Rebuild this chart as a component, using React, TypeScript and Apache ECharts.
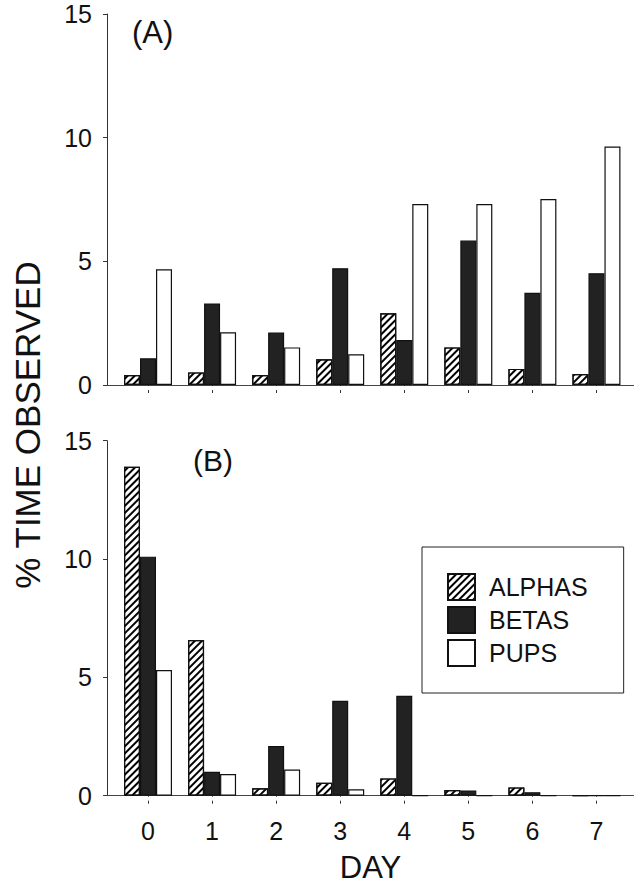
import React, { useEffect, useRef } from "react";
import * as echarts from "echarts";

const days = [0, 1, 2, 3, 4, 5, 6, 7];
const dayLabels = ["0", "1", "2", "3", "4", "5", "6", "7"];
const yTicks = [0, 5, 10, 15];

// Panel (A)
const alphasA = [0.4, 0.51, 0.4, 1.04, 2.9, 1.52, 0.65, 0.44];
const betasA = [1.08, 3.3, 2.12, 4.72, 1.82, 5.84, 3.73, 4.52];
const pupsA = [4.68, 2.13, 1.52, 1.24, 7.32, 7.32, 7.52, 9.64];

// Panel (B)
const alphasB = [13.9, 6.58, 0.31, 0.55, 0.73, 0.24, 0.35, 0];
const betasB = [10.1, 1.01, 2.1, 4.01, 4.22, 0.22, 0.15, 0];
const pupsB = [5.31, 0.92, 1.11, 0.27, 0, 0, 0, 0];

const FONT = "'Liberation Sans', Arial, Helvetica, sans-serif";
const INK = "#111";

const hatch = {
  symbol: "rect",
  symbolSize: 1,
  dashArrayX: [1, 0],
  dashArrayY: [2, 3],
  rotation: -Math.PI / 4,
  color: "#000",
};

const styles: Record<string, any> = {
  ALPHAS: { color: "#fff", borderColor: INK, borderWidth: 1.2, decal: hatch },
  BETAS: { color: "#222", borderColor: INK, borderWidth: 1.2 },
  PUPS: { color: "#fff", borderColor: INK, borderWidth: 1.2 },
};

const toPairs = (vals: number[]) => days.map((d, i) => [d, vals[i]]);

export default function App() {
  const ref = useRef<HTMLDivElement>(null);
  useEffect(() => {
    if (!ref.current) return;
    const chart = echarts.init(ref.current, null, { renderer: "svg" });

    const xAxisBase = (gridIndex: number, showLabels: boolean) => ({
      type: "value",
      gridIndex,
      min: -0.64,
      max: 7.586,
      splitLine: { show: false },
      axisLine: { show: true, onZero: false, lineStyle: { color: "#444", width: 1 } },
      axisTick: {
        show: true,
        customValues: days,
        length: 8,
        lineStyle: { color: "#333", width: 1, type: [1, 4, 3, 20] },
      },
      axisLabel: {
        show: showLabels,
        customValues: days,
        formatter: (v: number) => dayLabels[days.indexOf(v)] ?? "",
        fontSize: 25,
        fontFamily: FONT,
        color: INK,
        margin: 23,
      },
      ...(showLabels
        ? {
            name: "DAY",
            nameLocation: "middle",
            nameGap: 56,
            nameTextStyle: { fontSize: 31, fontFamily: FONT, color: INK },
          }
        : {}),
    });

    const yAxisBase = (gridIndex: number) => ({
      type: "value",
      gridIndex,
      min: 0,
      max: 15,
      interval: 5,
      splitLine: { show: false },
      axisLine: { show: true, onZero: false, lineStyle: { color: "#333", width: 1 } },
      axisTick: { show: true, length: 4, lineStyle: { color: "#333" } },
      axisLabel: {
        fontSize: 25,
        fontFamily: FONT,
        color: INK,
        margin: 15,
        padding: [12, 0, 0, 0],
        customValues: yTicks,
      },
    });

    const mk = (name: string, vals: number[], idx: number) => ({
      type: "bar",
      name,
      xAxisIndex: idx,
      yAxisIndex: idx,
      data: toPairs(vals),
      barWidth: 16,
      barGap: "0%",
      itemStyle: styles[name],
      emphasis: { disabled: true },
    });

    chart.setOption({
      animation: false,
      backgroundColor: "#fff",
      title: [
        {
          text: "(A)",
          left: 127,
          top: 12,
          textStyle: { fontSize: 31, fontWeight: "normal", fontFamily: FONT, color: INK },
        },
        {
          text: "(B)",
          left: 188,
          top: 440,
          textStyle: { fontSize: 30, fontWeight: "normal", fontFamily: FONT, color: INK },
        },
      ],
      grid: [
        { left: 107, top: 14, width: 527, height: 371 },
        { left: 107, top: 440.7, width: 527, height: 355 },
      ],
      xAxis: [xAxisBase(0, false), xAxisBase(1, true)],
      yAxis: [yAxisBase(0), yAxisBase(1)],
      legend: {
        data: ["ALPHAS", "BETAS", "PUPS"],
        orient: "vertical",
        left: 422,
        top: 547,
        padding: [26, 36, 26, 25],
        itemWidth: 27,
        itemHeight: 26,
        itemGap: 5,
        icon: "rect",
        borderColor: "#222",
        borderWidth: 1,
        selectedMode: false,
        textStyle: { fontSize: 25, fontFamily: FONT, color: INK, padding: [0, 0, 0, 9] },
      },
      graphic: [
        {
          type: "text",
          x: 27,
          y: 425,
          rotation: Math.PI / 2,
          style: {
            text: "% TIME OBSERVED",
            fontSize: 35,
            fontFamily: FONT,
            fill: INK,
            align: "center",
            verticalAlign: "middle",
          },
        },
      ],
      series: [
        mk("ALPHAS", alphasA, 0),
        mk("BETAS", betasA, 0),
        mk("PUPS", pupsA, 0),
        mk("ALPHAS", alphasB, 1),
        mk("BETAS", betasB, 1),
        mk("PUPS", pupsB, 1),
      ],
    });
    return () => chart.dispose();
  }, []);
  return (
    <div
      ref={ref}
      style={{ position: "fixed", left: 0, top: 0, width: 634, height: 884 }}
    />
  );
}
